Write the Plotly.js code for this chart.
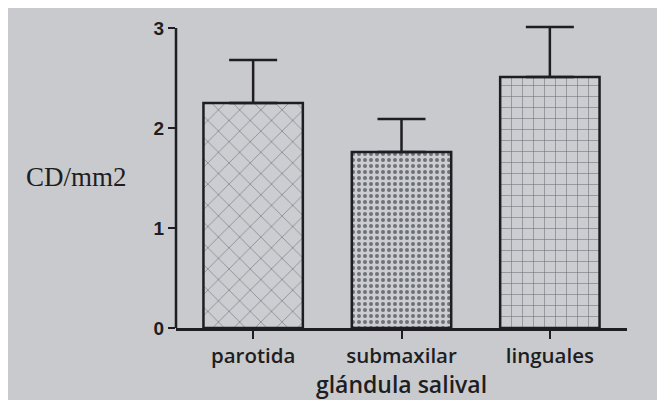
<!DOCTYPE html>
<html>
<head>
<meta charset="utf-8">
<script src="https://cdn.plot.ly/plotly-3.0.1.min.js"></script>
<style>
  html, body { margin: 0; padding: 0; background: #ffffff; }
  #chart { position: absolute; left: 8px; top: 8px; width: 649px; height: 392px; }
</style>
</head>
<body>
<div id="chart"></div>
<script>
// Data
const categories = ["parotida", "submaxilar", "linguales"];
const means = [2.25, 1.76, 2.51];
const sdUpper = [0.43, 0.33, 0.50];
const patternShapes = ["x", ".", "+"];
const patternSizes = [15, 6, 11];
const yTicks = [0, 1, 2, 3];
const yAxisTop = 3;

const trace = {
  type: "bar",
  x: categories,
  y: means,
  cliponaxis: false,
  marker: {
    color: "#cbcdd1",
    line: { color: "#1e1e22", width: 2.5 },
    pattern: {
      shape: patternShapes,
      size: patternSizes,
      solidity: [0.08, 0.35, 0.1],
      fgcolor: "#6e7178",
      bgcolor: "#cbcdd1",
      fillmode: "replace"
    }
  },
  error_y: {
    type: "data",
    symmetric: false,
    array: sdUpper,
    arrayminus: [0, 0, 0],
    color: "#1e1e22",
    thickness: 2.5,
    width: 24
  },
  hoverinfo: "x+y"
};

const layout = {
  width: 649,
  height: 392,
  paper_bgcolor: "#c9cacd",
  plot_bgcolor: "#c9cacd",
  margin: { l: 168, r: 30, t: 17, b: 72 },
  bargap: 0.33,
  showlegend: false,
  xaxis: {
    type: "category",
    range: [-0.52, 2.52],
    showline: true,
    linecolor: "#1e1e22",
    linewidth: 2.5,
    ticks: "outside",
    ticklen: 8,
    tickwidth: 2,
    tickcolor: "#1e1e22",
    showgrid: false,
    zeroline: false,
    tickfont: { family: "Open Sans, Liberation Sans, sans-serif", size: 20.5, color: "#1e1e22", weight: 600 },
    title: {
      text: "glándula salival",
      font: { family: "Open Sans, Liberation Sans, sans-serif", size: 23, color: "#1e1e22", weight: 600 },
      standoff: 13
    }
  },
  yaxis: {
    range: [0, 3.03],
    tickvals: yTicks,
    ticktext: yTicks.map(String),
    showline: false,
    ticks: "outside",
    ticklen: 7,
    tickwidth: 2,
    tickcolor: "#1e1e22",
    showgrid: false,
    zeroline: false,
    tickfont: { family: "Liberation Sans, Arial, sans-serif", size: 19, color: "#1e1e22", weight: 700 }
  },
  shapes: [{
    type: "line",
    xref: "paper", yref: "y",
    x0: 0, x1: 0, y0: 0, y1: yAxisTop,
    line: { color: "#1e1e22", width: 2.5 }
  }],
  annotations: [{
    text: "CD/mm2",
    xref: "paper", yref: "paper",
    x: -0.337, y: 0.5,
    xanchor: "left", yanchor: "middle",
    showarrow: false,
    font: { family: "Liberation Serif, Times New Roman, serif", size: 27, color: "#1e1e22" }
  }]
};

Plotly.newPlot("chart", [trace], layout, { displayModeBar: false, staticPlot: true });
</script>
</body>
</html>
